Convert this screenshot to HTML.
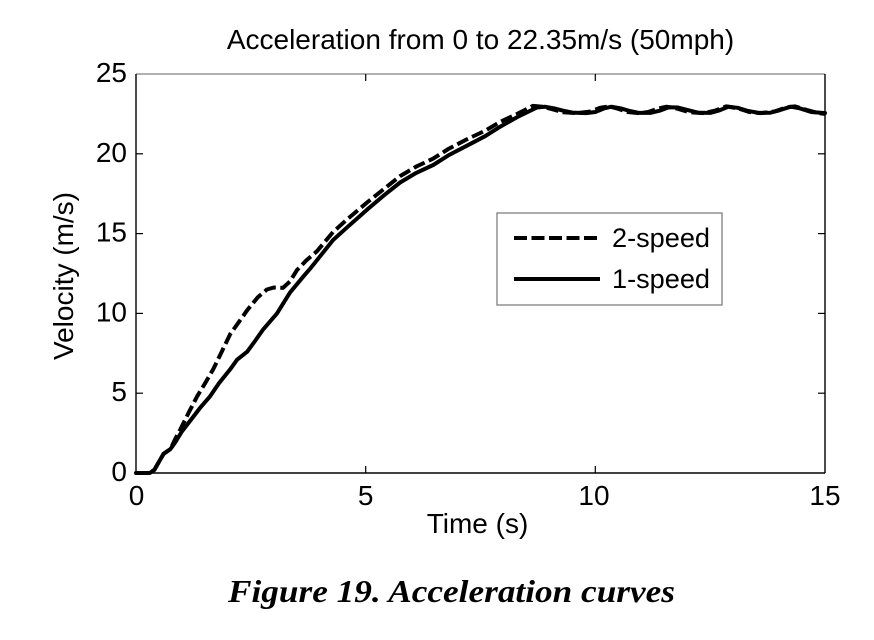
<!DOCTYPE html>
<html>
<head>
<meta charset="utf-8">
<style>
  html,body{margin:0;padding:0;background:#fff;}
  svg{display:block;}
  text{font-family:"Liberation Sans",Arial,sans-serif;fill:#000;}
</style>
</head>
<body>
<svg width="874" height="640" viewBox="0 0 874 640" xmlns="http://www.w3.org/2000/svg">
  <rect x="0" y="0" width="874" height="640" fill="#fff"/>

  <!-- Title -->
  <text x="480.5" y="49" font-size="28" text-anchor="middle">Acceleration from 0 to 22.35m/s (50mph)</text>

  <!-- Axes frame -->
  <line x1="136" y1="74" x2="825" y2="74" stroke="#808080" stroke-width="1.3"/>
  <line x1="136" y1="74" x2="136" y2="473" stroke="#000" stroke-width="1.4"/>
  <line x1="825" y1="74" x2="825" y2="473" stroke="#000" stroke-width="1.4"/>
  <line x1="136" y1="473" x2="825" y2="473" stroke="#000" stroke-width="1.4"/>

  <!-- Ticks -->
  <g stroke="#000" stroke-width="1.2">
    <line x1="136" y1="393.2" x2="143" y2="393.2"/>
    <line x1="136" y1="313.4" x2="143" y2="313.4"/>
    <line x1="136" y1="233.6" x2="143" y2="233.6"/>
    <line x1="136" y1="153.8" x2="143" y2="153.8"/>
    <line x1="825" y1="393.2" x2="818" y2="393.2"/>
    <line x1="825" y1="313.4" x2="818" y2="313.4"/>
    <line x1="825" y1="233.6" x2="818" y2="233.6"/>
    <line x1="825" y1="153.8" x2="818" y2="153.8"/>
    <line x1="365.7" y1="473" x2="365.7" y2="466"/>
    <line x1="595.3" y1="473" x2="595.3" y2="466"/>
    <line x1="365.7" y1="74" x2="365.7" y2="81"/>
    <line x1="595.3" y1="74" x2="595.3" y2="81"/>
  </g>

  <!-- Y tick labels -->
  <g font-size="28" text-anchor="end">
    <text x="127" y="481">0</text>
    <text x="127" y="401.2">5</text>
    <text x="127" y="321.4">10</text>
    <text x="127" y="241.6">15</text>
    <text x="127" y="161.8">20</text>
    <text x="127" y="82">25</text>
  </g>

  <!-- X tick labels -->
  <g font-size="28" text-anchor="middle">
    <text x="136.5" y="505">0</text>
    <text x="365.7" y="505">5</text>
    <text x="594" y="505">10</text>
    <text x="825" y="505">15</text>
  </g>

  <!-- Axis labels -->
  <text x="477.5" y="533" font-size="28" text-anchor="middle">Time (s)</text>
  <text x="0" y="0" font-size="28" text-anchor="middle" transform="translate(73,276) rotate(-90)">Velocity (m/s)</text>

  <!-- 1-speed (solid) -->
  <polyline fill="none" stroke="#000" stroke-width="4" stroke-linejoin="round" stroke-linecap="round"
    points="136,473 149.8,473 154.4,469.8 159,461.8 163.6,453.8 170.4,449.1 175,442.7 181.9,431.5 193,417.1 200.3,407.6 210,396.4 218.7,383.6 230.2,369.3 237.1,359.7 247.2,351.7 255.4,340.5 263.2,329.4 277,313.4 289.9,292.7 303.2,276.7 310.1,268.7 322.9,252.8 333.1,240 347.3,227.2 367,209.7 384,195.3 400.1,182.5 416.2,172.9 433.2,165 448.3,155.4 466.7,145.8 485.1,136.2 500.2,126.7 517.2,117.1 537,107.5 544.8,106.7 554,108.3 563.2,110.7 572.4,112.6 586.1,113.1 595.3,112 604.5,108.3 611.4,106.7 620.6,108.3 629.8,111 639,112.9 650.4,112.9 659.6,110.7 668.8,107.2 678,107.5 687.2,109.9 698.7,112.8 710.2,112.9 719.3,110.4 728.5,106.7 737.7,107.8 746.9,110.7 758.4,112.9 769.9,112.8 779.1,110.4 790.6,106.7 799.7,108.3 811.2,112 825,113.1"/>

  <!-- 2-speed (dashed) -->
  <polyline fill="none" stroke="#000" stroke-width="4" stroke-linejoin="round" stroke-dasharray="12 4.5"
    points="136,473 149.8,473 154.4,469.8 159,461.8 163.6,453.8 170.4,449.1 175,439.5 180.1,429.9 188.8,412.4 197.1,396.4 204.9,383.6 213.2,369.3 221,353.3 230.2,334.1 239.3,321.4 247.2,310.2 257.7,297.4 266.9,289.5 273.8,287.5 283,287.9 289.9,281.5 296.8,270.3 306,260.7 317,251.2 333.1,232 347.3,219.2 367,202.5 384,188.9 400.1,176.1 416.2,166.6 433.2,158.6 448.3,149 466.7,139.4 485.1,130.7 500.2,121.9 517.2,113.9 532.9,105.9 542.5,106.7 551.7,109.1 563.2,112.3 577,113.1 590.7,111.5 599.9,107.8 609.1,106.4 618.3,108.8 627.5,112 639,113.1 648.2,112 657.3,108.8 666.5,106.7 678,108.8 689.5,112.3 703.3,113.1 714.8,110.7 726.2,106.4 737.7,108.3 749.2,112 760.7,113.1 774.5,111.5 786,107.5 795.1,106.4 806.6,109.9 818.1,113.1 825,113.9"/>

  <!-- Legend -->
  <rect x="497" y="213" width="225" height="92" fill="#fff" stroke="#808080" stroke-width="1.3"/>
  <line x1="514" y1="238" x2="600" y2="238" stroke="#000" stroke-width="4" stroke-dasharray="13 4.5"/>
  <line x1="514" y1="279" x2="600" y2="279" stroke="#000" stroke-width="4"/>
  <text x="612" y="247" font-size="27" textLength="98" lengthAdjust="spacingAndGlyphs">2-speed</text>
  <text x="612" y="288" font-size="27" textLength="98" lengthAdjust="spacingAndGlyphs">1-speed</text>

  <!-- Caption -->
  <text x="228" y="602" font-size="32" font-weight="bold" font-style="italic" textLength="447" lengthAdjust="spacingAndGlyphs" style="font-family:'Liberation Serif','Times New Roman',serif;">Figure 19. Acceleration curves</text>
</svg>
</body>
</html>
